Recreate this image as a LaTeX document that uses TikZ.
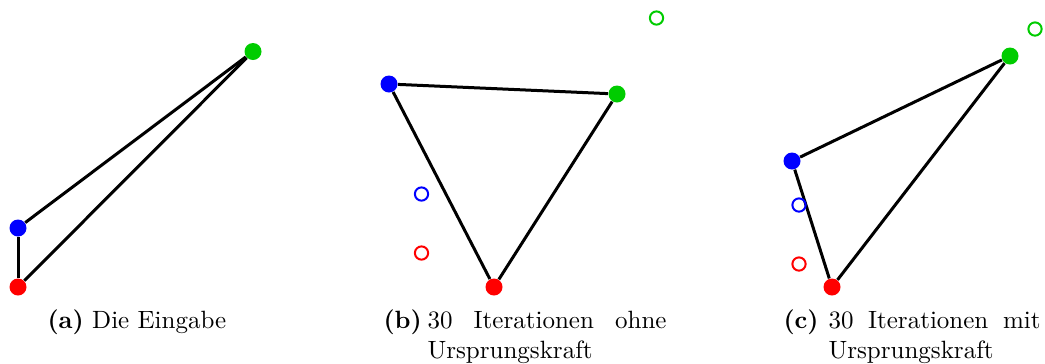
\documentclass[tikz,border=0pt]{standalone}
\usepackage{xcolor}
\definecolor{dotred}{RGB}{255,0,0}
\definecolor{dotblue}{RGB}{0,0,255}
\definecolor{dotgreen}{RGB}{0,204,0}
\begin{document}
\begin{tikzpicture}[x=0.4pt,y=-0.4pt,
  dot/.style={circle,inner sep=0pt,minimum size=6.8pt},
  ghost/.style={circle,draw,line width=0.8pt,inner sep=0pt,minimum size=5.3pt},
  edge/.style={line width=1.2pt,black},
  captext/.style={inner sep=0pt,anchor=base west,font=\normalsize}]
\useasboundingbox (0,0) rectangle (1045,363);
% (a)
\node[dot,fill=dotred]   (ar) at (18,287) {};
\node[dot,fill=dotblue]  (ab) at (18,228) {};
\node[dot,fill=dotgreen] (ag) at (253,51.5) {};
\draw[edge] (ar) -- (ab);
\draw[edge] (ab) -- (ag);
\draw[edge] (ar) -- (ag);
% (b)
\node[dot,fill=dotblue]  (bb) at (389,84) {};
\node[dot,fill=dotgreen] (bg) at (617,94) {};
\node[dot,fill=dotred]   (br) at (494,287) {};
\draw[edge] (bb) -- (bg);
\draw[edge] (bb) -- (br);
\draw[edge] (bg) -- (br);
\node[ghost,draw=dotgreen] (bgo) at (656.5,18) {};
\node[ghost,draw=dotblue]  (bbo) at (421.5,194) {};
\node[ghost,draw=dotred]   (bro) at (421.5,253) {};
% (c)
\node[dot,fill=dotgreen] (cg) at (1010,56) {};
\node[dot,fill=dotblue]  (cb) at (792,161) {};
\node[dot,fill=dotred]   (cr) at (832,287) {};
\draw[edge] (cb) -- (cg);
\draw[edge] (cb) -- (cr);
\draw[edge] (cr) -- (cg);
\node[ghost,draw=dotgreen] (cgo) at (1035,29) {};
\node[ghost,draw=dotblue]  (cbo) at (799,205) {};
\node[ghost,draw=dotred]   (cro) at (799,264) {};
% captions
\node[captext] (capa) at (47,328) {\textbf{(a)} Die Eingabe};
\node[captext] (capbl) at (383,328) {\textbf{(b)}};
\node[captext] (capb1) at (427,328) {\makebox[95.6pt][s]{30 Iterationen ohne}};
\node[captext] (capb2) at (427,358) {Ursprungskraft};
\node[captext] (capcl) at (783,328) {\textbf{(c)}};
\node[captext] (capc1) at (828,328) {\makebox[84.8pt][s]{30 Iterationen mit}};
\node[captext] (capc2) at (828,358) {Ursprungskraft};
\end{tikzpicture}
\end{document}
